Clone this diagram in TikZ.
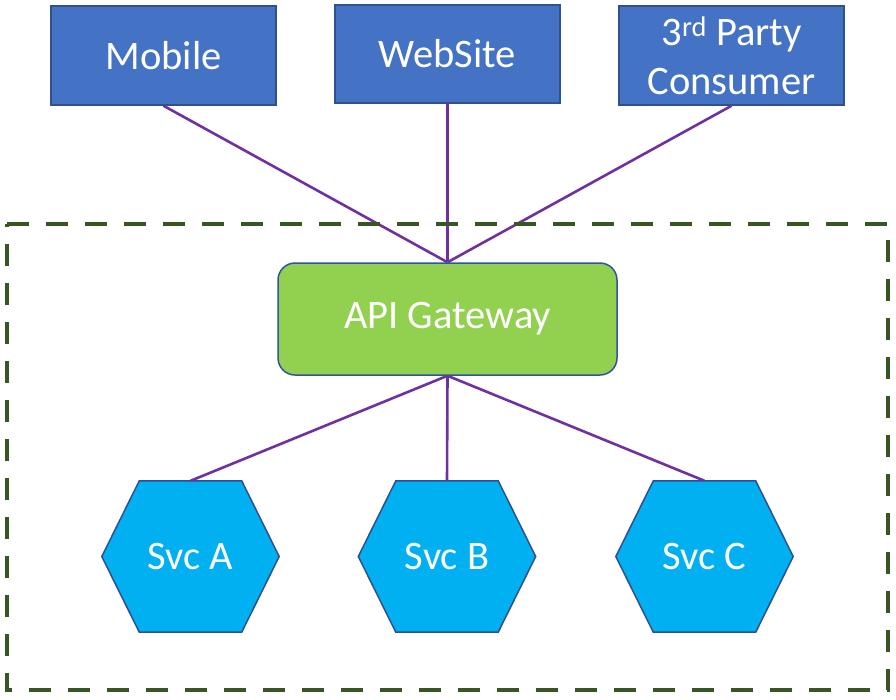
\documentclass[tikz,border=0pt]{standalone}
\usepackage{fontspec}
\setmainfont{Carlito}
\usetikzlibrary{backgrounds}
\definecolor{boxblue}{HTML}{4472C4}
\definecolor{boxedge}{HTML}{2F528F}
\definecolor{gwgreen}{HTML}{92D050}
\definecolor{gwedge}{HTML}{2F55A0}
\definecolor{hexblue}{HTML}{00B0F0}
\definecolor{hexedge}{HTML}{2F4F8F}
\definecolor{linkpurple}{HTML}{7030A0}
\definecolor{framegreen}{HTML}{375623}
\begin{document}
\begin{tikzpicture}[x=1pt,y=-1pt,
  clientbox/.style={draw=boxedge,line width=1.5pt,fill=boxblue,text=white,
    minimum width=225pt,minimum height=99pt,inner sep=0pt,align=center,
    font=\fontsize{40.5}{49}\selectfont},
  gwbox/.style={draw=gwedge,line width=1.5pt,fill=gwgreen,text=white,
    rounded corners=17pt,minimum width=339pt,minimum height=112pt,inner sep=0pt,
    font=\fontsize{40.5}{49}\selectfont},
  hexnode/.style={minimum width=177pt,minimum height=151pt,inner sep=0pt,
    text=white,font=\fontsize{40.5}{49}\selectfont},
  hexpaint/.style={draw=hexedge,line width=1.5pt,fill=hexblue},
  link/.style={draw=linkpurple,line width=2.6pt},
  frame/.style={draw=framegreen,line width=4.5pt,dash pattern=on 22pt off 17pt}]
\useasboundingbox (0,0) rectangle (896,699);
\draw[frame] (7,224) -- (888,224) -- (888,690) -- (7,690) -- cycle;
\node[clientbox] (mobile) at (163.5,55.5) {Mobile};
\node[clientbox,minimum height=98pt] (web) at (447.5,54) {WebSite};
\node[clientbox] (third) at (731.5,55.5) {3\textsuperscript{rd} Party\\Consumer};
\node[gwbox] (gw) at (447.5,319) {API Gateway};
\node[hexnode] (sa) at (190.5,556.5) {Svc A};
\node[hexnode] (sb) at (447,556.5) {Svc B};
\node[hexnode] (sc) at (704.5,556.5) {Svc C};
\begin{scope}[on background layer]
\foreach \h in {sa,sb,sc}{
  \path[hexpaint] (\h.west) -- ([xshift=37.5pt]\h.north west) -- ([xshift=-37.5pt]\h.north east)
    -- (\h.east) -- ([xshift=-37.5pt]\h.south east) -- ([xshift=37.5pt]\h.south west) -- cycle;
}
\draw[link] (mobile.south) -- (gw.north);
\draw[link] (web.south) -- (gw.north);
\draw[link] (third.south) -- (gw.north);
\draw[link] (gw.south) -- (sa.north);
\draw[link] (gw.south) -- (sb.north);
\draw[link] (gw.south) -- (sc.north);
\end{scope}
\end{tikzpicture}
\end{document}
